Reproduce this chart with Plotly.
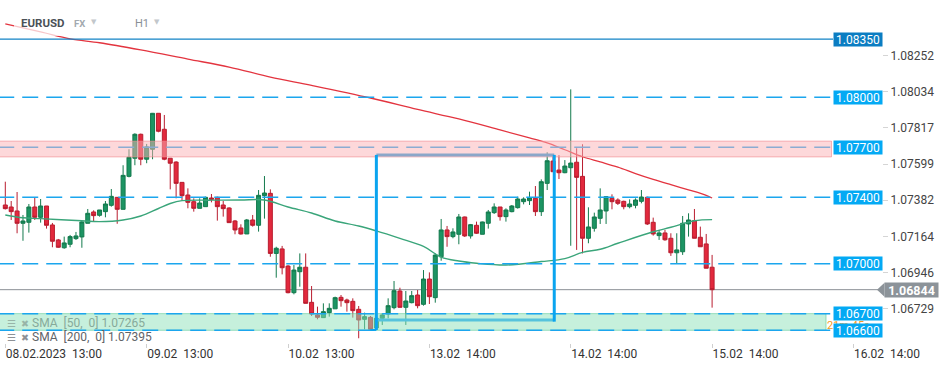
import plotly.graph_objects as go

# ---------------- data ----------------
opens = [1.07353, 1.07341, 1.07317, 1.07243, 1.07249, 1.07341, 1.07279, 1.07347, 1.07233, 1.07143,
         1.07096, 1.07117, 1.07151, 1.07161, 1.07243, 1.07311, 1.07291, 1.07313, 1.07351, 1.07399,
         1.07327, 1.07525, 1.07634, 1.07778, 1.07628, 1.07688, 1.07904, 1.07808, 1.07634, 1.07611,
         1.07489, 1.07413, 1.07373, 1.07333, 1.07343, 1.07395, 1.07399, 1.07353, 1.07335, 1.07257,
         1.07215, 1.07179, 1.07263, 1.07231, 1.07409, 1.07423, 1.07062, 1.07089, 1.06986, 1.06826,
         1.06952, 1.06979, 1.06768, 1.06692, 1.06676, 1.06706, 1.06729, 1.06798, 1.06782, 1.06774,
         1.06726, 1.06666, 1.06678, 1.06614, 1.06672, 1.06698, 1.06736, 1.06836, 1.06738, 1.06766,
         1.06812, 1.06756, 1.06908, 1.06796, 1.07042, 1.07203, 1.07163, 1.07177, 1.07281, 1.07167,
         1.07231, 1.07177, 1.07243, 1.07307, 1.07341, 1.07283, 1.07313, 1.07337, 1.07373, 1.07379,
         1.07393, 1.07313, 1.07483, 1.07617, 1.07563, 1.07547, 1.07577, 1.07610, 1.07525, 1.07153,
         1.07213, 1.07273, 1.07317, 1.07393, 1.07383, 1.07375, 1.07343, 1.07351, 1.07375, 1.07399,
         1.07249, 1.07169, 1.07185, 1.07153, 1.07066, 1.07072, 1.07239, 1.07259, 1.07159, 1.07119,
         1.06979]
highs = [1.07493, 1.07377, 1.07431, 1.07293, 1.07359, 1.07397, 1.07389, 1.07347, 1.07245, 1.07149,
         1.07163, 1.07173, 1.07191, 1.07257, 1.07329, 1.07321, 1.07323, 1.07377, 1.07449, 1.07401,
         1.07592, 1.07688, 1.07784, 1.07782, 1.07720, 1.07906, 1.07904, 1.07894, 1.07634, 1.07616,
         1.07489, 1.07453, 1.07393, 1.07393, 1.07403, 1.07419, 1.07403, 1.07377, 1.07339, 1.07263,
         1.07237, 1.07269, 1.07293, 1.07443, 1.07527, 1.07447, 1.07102, 1.07107, 1.06992, 1.06992,
         1.07062, 1.07062, 1.06866, 1.06742, 1.06762, 1.06762, 1.06802, 1.06812, 1.06790, 1.06792,
         1.06746, 1.06706, 1.06686, 1.06686, 1.06702, 1.06792, 1.06896, 1.06856, 1.06836, 1.06836,
         1.06842, 1.06962, 1.06948, 1.07062, 1.07269, 1.07227, 1.07213, 1.07299, 1.07283, 1.07239,
         1.07253, 1.07253, 1.07323, 1.07363, 1.07341, 1.07333, 1.07353, 1.07403, 1.07399, 1.07433,
         1.07467, 1.07507, 1.07670, 1.07647, 1.07653, 1.07623, 1.08048, 1.07694, 1.07718, 1.07339,
         1.07307, 1.07453, 1.07407, 1.07417, 1.07393, 1.07379, 1.07387, 1.07393, 1.07443, 1.07403,
         1.07277, 1.07203, 1.07203, 1.07183, 1.07183, 1.07287, 1.07303, 1.07329, 1.07223, 1.07179,
         1.07053]
lows = [1.07326, 1.07263, 1.07183, 1.07138, 1.07187, 1.07263, 1.07247, 1.07211, 1.07099, 1.07096,
        1.07090, 1.07099, 1.07143, 1.07096, 1.07243, 1.07253, 1.07283, 1.07279, 1.07343, 1.07240,
        1.07327, 1.07519, 1.07592, 1.07592, 1.07604, 1.07628, 1.07790, 1.07622, 1.07447, 1.07393,
        1.07383, 1.07333, 1.07313, 1.07333, 1.07343, 1.07369, 1.07259, 1.07283, 1.07247, 1.07177,
        1.07175, 1.07179, 1.07223, 1.07193, 1.07271, 1.07042, 1.06916, 1.06936, 1.06822, 1.06816,
        1.06862, 1.06762, 1.06686, 1.06666, 1.06676, 1.06682, 1.06729, 1.06742, 1.06712, 1.06676,
        1.06552, 1.06606, 1.06602, 1.06606, 1.06632, 1.06672, 1.06726, 1.06736, 1.06632, 1.06762,
        1.06732, 1.06748, 1.06758, 1.06766, 1.07018, 1.07102, 1.07153, 1.07117, 1.07161, 1.07151,
        1.07179, 1.07177, 1.07211, 1.07299, 1.07259, 1.07253, 1.07309, 1.07331, 1.07357, 1.07353,
        1.07287, 1.07287, 1.07443, 1.07553, 1.07509, 1.07544, 1.07108, 1.07083, 1.07062, 1.07123,
        1.07193, 1.07239, 1.07239, 1.07327, 1.07353, 1.07327, 1.07333, 1.07333, 1.07363, 1.07233,
        1.07169, 1.07143, 1.07138, 1.07047, 1.07003, 1.07053, 1.07163, 1.07153, 1.07102, 1.06973,
        1.06736]
closes = [1.07331, 1.07313, 1.07243, 1.07257, 1.07341, 1.07279, 1.07347, 1.07231, 1.07135, 1.07099,
          1.07125, 1.07163, 1.07167, 1.07251, 1.07303, 1.07289, 1.07323, 1.07359, 1.07405, 1.07327,
          1.07531, 1.07640, 1.07778, 1.07628, 1.07702, 1.07904, 1.07796, 1.07628, 1.07604, 1.07483,
          1.07409, 1.07369, 1.07333, 1.07365, 1.07399, 1.07387, 1.07343, 1.07331, 1.07247, 1.07203,
          1.07179, 1.07263, 1.07231, 1.07411, 1.07425, 1.07062, 1.07093, 1.06976, 1.06826, 1.06962,
          1.06979, 1.06762, 1.06698, 1.06678, 1.06712, 1.06732, 1.06796, 1.06778, 1.06766, 1.06718,
          1.06662, 1.06682, 1.06606, 1.06672, 1.06692, 1.06748, 1.06838, 1.06738, 1.06776, 1.06808,
          1.06748, 1.06908, 1.06802, 1.07052, 1.07203, 1.07163, 1.07191, 1.07281, 1.07167, 1.07235,
          1.07183, 1.07251, 1.07311, 1.07341, 1.07283, 1.07323, 1.07347, 1.07389, 1.07389, 1.07395,
          1.07313, 1.07493, 1.07619, 1.07553, 1.07547, 1.07587, 1.07605, 1.07519, 1.07153, 1.07221,
          1.07281, 1.07323, 1.07403, 1.07373, 1.07363, 1.07343, 1.07359, 1.07383, 1.07401, 1.07239,
          1.07179, 1.07185, 1.07144, 1.07066, 1.07083, 1.07243, 1.07263, 1.07153, 1.07102, 1.06973,
          1.06844]

sma50_idx = [0, 3, 6, 13, 16, 20, 23, 26, 28, 30, 35, 40, 44, 48, 52, 56, 60, 63, 67, 71,
             74, 77, 80, 85, 91, 95, 98, 101, 104, 110, 113, 117, 120]
sma50_val = [1.07293, 1.07276, 1.07271, 1.07258, 1.07253, 1.07263, 1.07287, 1.07332, 1.07362, 1.07379,
             1.07382, 1.07383, 1.07383, 1.07341, 1.07305, 1.07257, 1.07227, 1.07197, 1.07152, 1.07104,
             1.07040, 1.07016, 1.07003, 1.06992, 1.07013, 1.07031, 1.07068, 1.07087, 1.07123, 1.07192,
             1.07219, 1.07258, 1.07265]
sma200_idx = [0, 6, 11, 16, 23, 31, 38, 45, 52, 62, 70, 77, 84, 89, 92, 95, 98, 101, 104, 107,
              110, 113, 116, 119, 120]
sma200_val = [1.08441, 1.08393, 1.08351, 1.08328, 1.08285, 1.08230, 1.08182, 1.08122, 1.08072, 1.07996,
              1.07927, 1.07870, 1.07804, 1.07756, 1.07726, 1.07685, 1.07643, 1.07612, 1.07580, 1.07542,
              1.07507, 1.07475, 1.07444, 1.07411, 1.07395]

level_vals = [1.0835, 1.0800, 1.0770, 1.0740, 1.0700, 1.0670, 1.0660]
current_price = 1.06844
pink_zone = [1.07642, 1.07737]
green_zone = [1.06600, 1.06700]
bracket_idx = [63, 93.2]
bracket_top = 1.07654
bracket_bottom = [1.06602, 1.06662, 1.06652]

xtick_idx = [0, 24, 48, 72, 96, 120, 144]
xtick_text = ["08.02.2023\u00a0 13:00", "09.02\u00a0 13:00", "10.02\u00a0 13:00", "13.02\u00a0 14:00",
              "14.02\u00a0 14:00", "15.02\u00a0 14:00", "16.02\u00a0 14:00"]
ytick_vals = [1.08252, 1.08034, 1.07817, 1.07599, 1.07382, 1.07164, 1.06946, 1.06729, 1.06511]
sma_labels = ["SMA [50,  0] 1.07265", "SMA [200,  0] 1.07395"]

# ---------------- layout helpers ----------------
W, H = 949, 370
PLOT_H = 343
X0_PX, STEP_PX = 5.3, 5.89
Y_TOP = 1.08585
PX_PRICE = 0.0000601


def kx(px):
    return (px - X0_PX) / STEP_PX


def pxp(px):
    return px / W


def pyp(py):
    return (PLOT_H - py) / PLOT_H


FONT = "Roboto"
BLUE = "#1ba6ee"
idx = list(range(len(closes)))

fig = go.Figure()
fig.add_trace(go.Candlestick(
    x=idx, open=opens, high=highs, low=lows, close=closes,
    increasing=dict(line=dict(color="#137a4d", width=1), fillcolor="#1c9463"),
    decreasing=dict(line=dict(color="#b91d2f", width=1), fillcolor="#e2293d"),
    whiskerwidth=0, showlegend=False, hoverinfo="skip"))
fig.add_trace(go.Scatter(x=sma50_idx, y=sma50_val, mode="lines",
                         line=dict(color="#3aa57a", width=1.4, shape="spline"),
                         showlegend=False, hoverinfo="skip"))
fig.add_trace(go.Scatter(x=sma200_idx, y=sma200_val, mode="lines",
                         line=dict(color="#e3343f", width=1.3, shape="spline"),
                         showlegend=False, hoverinfo="skip"))

xl, xr = kx(0) - 0.3, kx(833)
shapes = []
# current price line
shapes.append(dict(type="line", layer="below", xref="x", yref="y", x0=xl, x1=kx(878),
                   y0=current_price, y1=current_price, line=dict(color="#8a8f95", width=1)))
# 1.077 dashed (under the pink zone)
shapes.append(dict(type="line", layer="above", xref="x", yref="y", x0=xl, x1=xr,
                   y0=level_vals[2], y1=level_vals[2], line=dict(color=BLUE, width=1.5, dash="16px,8px")))
# zones
shapes.append(dict(type="rect", layer="above", xref="x", yref="y", x0=xl, x1=kx(831.5),
                   y0=pink_zone[0], y1=pink_zone[1], fillcolor="rgba(251,177,181,0.5)",
                   line=dict(color="rgba(240,130,135,0.55)", width=1)))
shapes.append(dict(type="rect", layer="above", xref="x", yref="y", x0=xl, x1=kx(826),
                   y0=green_zone[0], y1=green_zone[1], fillcolor="rgba(141,225,185,0.5)",
                   line=dict(color="rgba(90,200,150,0.6)", width=1)))
# other levels
for i, v in enumerate(level_vals):
    if i == 2:
        continue
    if i == 0:
        ln = dict(color="#1283c6", width=1.2)
    else:
        ln = dict(color=BLUE, width=1.5, dash="16px,8px")
    shapes.append(dict(type="line", layer="above", xref="x", yref="y", x0=xl, x1=xr,
                       y0=v, y1=v, line=ln))
# measurement bracket
bl, br = bracket_idx
shapes.append(dict(type="line", layer="above", xref="x", yref="y", x0=bl, x1=br,
                   y0=bracket_top, y1=bracket_top, line=dict(color="#8ba7c9", width=3)))
shapes.append(dict(type="line", layer="above", xref="x", yref="y", x0=bl, x1=br,
                   y0=bracket_bottom[1], y1=bracket_bottom[1], line=dict(color="#56c3dc", width=3)))
shapes.append(dict(type="line", layer="above", xref="x", yref="y", x0=bl - 1, x1=bl,
                   y0=bracket_bottom[0], y1=bracket_bottom[0], line=dict(color="#0aa4ef", width=2)))
shapes.append(dict(type="line", layer="above", xref="x", yref="y", x0=bl, x1=bl,
                   y0=bracket_top, y1=bracket_bottom[0], line=dict(color="#0aa4ef", width=3)))
shapes.append(dict(type="line", layer="above", xref="x", yref="y", x0=br, x1=br,
                   y0=bracket_top, y1=bracket_bottom[2], line=dict(color="#0aa4ef", width=3)))
# header backdrop
shapes.append(dict(type="rect", layer="above", xref="paper", yref="paper",
                   x0=pxp(14), x1=pxp(168), y0=pyp(36), y1=pyp(12),
                   fillcolor="rgba(255,255,255,0.72)", line=dict(width=0)))
# current price pointer
hh = 7 * PX_PRICE
shapes.append(dict(type="path", layer="above", xref="paper", yref="y",
                   path=f"M {pxp(877)},{current_price} L {pxp(884.5)},{current_price + hh} "
                        f"L {pxp(884.5)},{current_price - hh} Z",
                   fillcolor="#8c9399", line=dict(width=0)))

ann = []
# partly hidden countdown text
ann.append(dict(xref="paper", yref="paper", x=pxp(825), y=pyp(325), xanchor="left", yanchor="middle",
                text="21m 45s", showarrow=False, font=dict(family=FONT, size=11, color="#f39c26")))
# level price boxes
for i, v in enumerate(level_vals):
    ann.append(dict(xref="paper", yref="y", x=pxp(833), y=v, xanchor="left", yanchor="middle",
                    text=f"{v:.5f}", showarrow=False, width=48, height=13, borderpad=0,
                    bgcolor="#0b7dc2" if i == 0 else "#03a9f4",
                    font=dict(family=FONT, size=12, color="white")))
ann.append(dict(xref="paper", yref="y", x=pxp(884), y=current_price, xanchor="left", yanchor="middle",
                text=f"<b>{current_price:.5f}</b>", showarrow=False, width=53, height=14, borderpad=0,
                bgcolor="#8c9399", font=dict(family=FONT, size=12.5, color="white")))
# header
hy = pyp(23)
ann.append(dict(xref="paper", yref="paper", x=pxp(19), y=hy, xanchor="left", yanchor="middle",
                text="<b>EURUSD</b>", showarrow=False, font=dict(family=FONT, size=11.5, color="#4b5157")))
ann.append(dict(xref="paper", yref="paper", x=pxp(72), y=hy, xanchor="left", yanchor="middle",
                text="<b>FX</b>", showarrow=False, font=dict(family=FONT, size=9.5, color="#a3a9af")))
ann.append(dict(xref="paper", yref="paper", x=pxp(89), y=pyp(22), xanchor="left", yanchor="middle",
                text="▼", showarrow=False, font=dict(family="DejaVu Sans", size=7, color="#c3c7cb")))
ann.append(dict(xref="paper", yref="paper", x=pxp(133), y=hy, xanchor="left", yanchor="middle",
                text="H1", showarrow=False, font=dict(family=FONT, size=11, color="#8a9096")))
ann.append(dict(xref="paper", yref="paper", x=pxp(152), y=pyp(22), xanchor="left", yanchor="middle",
                text="▼", showarrow=False, font=dict(family="DejaVu Sans", size=7, color="#c3c7cb")))
# SMA legend texts
for j, (txt, ypx, col, icol) in enumerate(zip(sma_labels, [323, 337], ["#86aa9a", "#5f6368"],
                                              ["#98b5a8", "#8e9195"])):
    ann.append(dict(xref="paper", yref="paper", x=pxp(5), y=pyp(ypx), xanchor="left", yanchor="middle",
                    text="<b>☰</b>", showarrow=False, font=dict(family="DejaVu Sans", size=10, color=icol)))
    ann.append(dict(xref="paper", yref="paper", x=pxp(18.5), y=pyp(ypx), xanchor="left", yanchor="middle",
                    text="✖", showarrow=False, font=dict(family="DejaVu Sans", size=9.5, color=icol)))
    ann.append(dict(xref="paper", yref="paper", x=pxp(30), y=pyp(ypx), xanchor="left", yanchor="middle",
                    text=txt.replace("  ", "\u00a0 ").replace("SMA ", "SMA\u00a0 "), showarrow=False,
                    font=dict(family=FONT, size=12, color=col)))

fig.update_layout(
    width=W, height=H,
    margin=dict(l=0, r=0, t=0, b=H - PLOT_H),
    paper_bgcolor="white", plot_bgcolor="white",
    font=dict(family=FONT),
    showlegend=False,
    boxgap=0.2, boxgroupgap=0.15,
    shapes=shapes, annotations=ann,
    hovermode=False,
    xaxis=dict(domain=[0, 1], range=[kx(0), kx(W)], showgrid=False, zeroline=False, showline=False,
               tickvals=xtick_idx, ticktext=xtick_text, ticks="outside", ticklen=4, tickcolor="#cfcfcf",
               ticklabelposition="outside right", ticklabeloverflow="allow",
               tickfont=dict(family=FONT, size=12, color="#333333"),
               rangeslider=dict(visible=False), fixedrange=True),
    yaxis=dict(range=[Y_TOP - PX_PRICE * PLOT_H, Y_TOP], anchor="free", position=pxp(882), side="right",
               tickvals=ytick_vals, tickformat=".5f", ticks="outside", ticklen=5, tickcolor="#d5d5d5",
               showgrid=False, zeroline=False, showline=False,
               tickfont=dict(family=FONT, size=12, color="#444444"), fixedrange=True),
)

fig.write_html("out.html", config={"displayModeBar": False},
               post_script="document.body.style.margin='0';document.body.style.overflow='hidden';")
